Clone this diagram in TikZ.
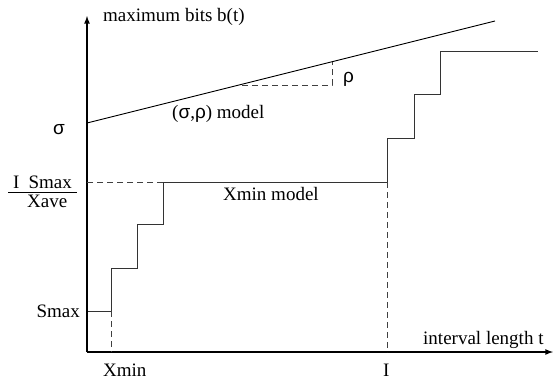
\documentclass[tikz,border=0pt]{standalone}
\usepackage{fontspec}
\setmainfont{Liberation Serif}
\newfontfamily\greekfont{Liberation Sans}
\usetikzlibrary{positioning}

\begin{document}
\begin{tikzpicture}[x=1pt, y=-1pt, >=latex, font=\fontsize{19}{22}\selectfont,
    axis line/.style={line width=1.6pt},
    step line/.style={line width=1pt, draw=black!80},
    guide line/.style={line width=0.8pt, dash pattern=on 6pt off 4pt, draw=black!75},
    label node/.style={inner sep=0pt, anchor=base west}]
    \useasboundingbox (0,0) rectangle (553,381);
    % axes
    \coordinate (origin) at (87,352);
    \coordinate (ytop) at (87,16);
    \coordinate (xend) at (553,352);
    \draw[axis line,->] (origin) -- (ytop);
    \draw[axis line,->] (origin) -- (xend);
    \node[label node] (ylabel) at (103,21) {maximum bits b(t)};
    \node[label node] (xlabel) at (423,344) {interval length t};
    % sigma-rho model
    \coordinate (sigma start) at (87,123);
    \coordinate (sigma end) at (495,21);
    \draw[line width=0.9pt] (sigma start) -- (sigma end);
    \coordinate (rho left) at (242,85);
    \coordinate (rho corner) at (332,85);
    \coordinate (rho top) at (332,62);
    \draw[guide line] (rho left) -- (rho corner) -- (rho top);
    \node[label node] (rho) at (343,82) {\greekfont ρ};
    \node[label node] (sigma) at (53,134) {\greekfont σ};
    \node[label node] (sigma model) at (172,118) {({\greekfont σ},{\greekfont ρ}) model};
    % xmin model
    \coordinate (smax start) at (88,311);
    \coordinate (xmin step) at (111,311);
    \coordinate (plateau start) at (163,182);
    \coordinate (plateau end) at (387,182);
    \draw[step line] (smax start) -- (xmin step) -- (111,268) -- (137,268) -- (137,224)
        -- (163,224) -- (plateau start) -- (plateau end) -- (387,138) -- (414,138)
        -- (414,94) -- (440,94) -- (440,51) -- (538,51);
    \draw[guide line] (plateau start) -- (plateau start -| origin);
    \draw[guide line] (xmin step) -- (xmin step |- origin);
    \draw[guide line] (plateau end) -- (plateau end |- origin);
    \node[label node] (xmin model) at (223,200) {Xmin model};
    \node[label node, anchor=base east] (smax) at (80,317) {Smax};
    \node[label node] (xmin) at (103,376) {Xmin};
    \node[label node] (interval) at (383,376) {I};
    % fraction on the y axis
    \node[label node] (frac num) at (13,188) {I\hspace{9pt}Smax};
    \node[label node] (frac den) at (27,207) {Xave};
    \draw[line width=0.8pt] (8,192) -- (77,192);
\end{tikzpicture}
\end{document}
